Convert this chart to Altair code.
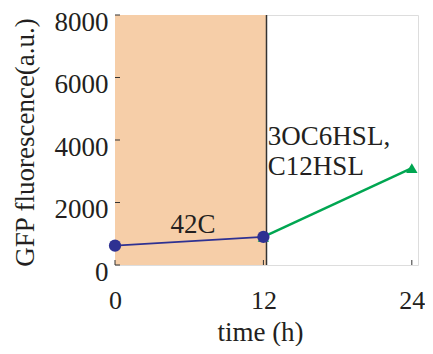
import altair as alt
import pandas as pd

# data
blue_t = [0, 12]
blue_v = [620, 900]
green_t = [12, 24]
green_v = [900, 3100]
shade_t = [0, 12.25]
x_ticks = [0, 12, 24]
y_ticks = [0, 2000, 4000, 6000, 8000]
temp_text = ["42C"]
temp_t = [6.3]
temp_v = [1280]
inducer_text = ["3OC6HSL,", "C12HSL"]
inducer_t = [12.36, 12.36]
inducer_v = [4100, 3140]

FONT = "Liberation Serif"
TXT = "#231f20"
BLUE = "#2e3192"
GREEN = "#00a651"
PEACH = "#f6cea8"

blue = pd.DataFrame({"t": blue_t, "v": blue_v})
green = pd.DataFrame({"t": green_t, "v": green_v})
shade = pd.DataFrame({"t": [shade_t[0]], "t2": [shade_t[1]], "v": [y_ticks[0]], "v2": [y_ticks[-1]]})
edge = pd.DataFrame({"t": [shade_t[1]]})
xt = pd.DataFrame({"t": x_ticks})
yt = pd.DataFrame({"v": y_ticks})
temp = pd.DataFrame({"t": temp_t, "v": temp_v, "label": temp_text})
inducer = pd.DataFrame({"t": inducer_t, "v": inducer_v, "label": inducer_text})

xscale = alt.Scale(domain=[0, 24.5], nice=False, zero=False)
yscale = alt.Scale(domain=[0, 8000], nice=False)

xaxis = alt.Axis(values=x_ticks, title="time (h)", ticks=False, domain=False, grid=False, format="d",
                 labelFont=FONT, labelFontSize=26, labelColor=TXT, labelPadding=22,
                 labelOffset=0, labelFlush=False, labelOverlap=False,
                 titleFont=FONT, titleFontSize=27, titleFontWeight="normal", titleColor=TXT,
                 titleX=145, titleY=67, titleBaseline="middle")
yaxis = alt.Axis(values=y_ticks, title="GFP fluorescence(a.u.)", ticks=False, domain=False, grid=False, format="d",
                 labelFont=FONT, labelFontSize=27, labelColor=TXT, labelPadding=7,
                 labelOffset=7, labelBaseline="middle", labelFlush=False, labelOverlap=False,
                 titleFont=FONT, titleFontSize=27, titleFontWeight="normal", titleColor=TXT,
                 titleX=-90, titleY=127, titleBaseline="middle", titleAngle=270)

X = lambda f: alt.X(f, type="quantitative", scale=xscale, axis=xaxis)
Y = lambda f: alt.Y(f, type="quantitative", scale=yscale, axis=yaxis)

rect = alt.Chart(shade).mark_rect(color=PEACH).encode(x=X("t"), x2="t2", y=Y("v"), y2="v2")
vline = alt.Chart(edge).mark_rule(color="#333333", strokeWidth=1.5).encode(x=X("t"))
xtick = alt.Chart(xt).mark_rule(color="#333333", strokeWidth=1).encode(
    x=X("t"), y=alt.value(250), y2=alt.value(245))
ytick = alt.Chart(yt).mark_rule(color="#333333", strokeWidth=1).encode(
    y=Y("v"), x=alt.value(0), x2=alt.value(5))
gline = alt.Chart(green).mark_line(color=GREEN, strokeWidth=2.5).encode(x=X("t"), y=Y("v"))
gpts = alt.Chart(green).mark_point(shape="triangle-up", filled=True, color=GREEN, size=130, opacity=1).encode(
    x=X("t"), y=Y("v"))
bline = alt.Chart(blue).mark_line(color=BLUE, strokeWidth=2).encode(x=X("t"), y=Y("v"))
bpts = alt.Chart(blue).mark_point(shape="circle", filled=True, color=BLUE, size=150, opacity=1).encode(
    x=X("t"), y=Y("v"))
txt1 = alt.Chart(temp).mark_text(font=FONT, fontSize=27, color=TXT, baseline="middle", align="center").encode(
    x=X("t"), y=Y("v"), text="label:N")
txt2 = alt.Chart(inducer).mark_text(font=FONT, fontSize=27, color=TXT, baseline="middle", align="left").encode(
    x=X("t"), y=Y("v"), text="label:N")

chart = alt.layer(rect, vline, xtick, ytick, gline, gpts, bline, bpts, txt1, txt2).properties(
    width=303, height=250,
    autosize=alt.AutoSizeParams(type="none"),
    padding={"left": 107, "top": 7, "right": 7, "bottom": 81},
).configure_view(stroke="#333333", strokeWidth=1.5).configure(background="white")

chart.save("out.html", embed_options={"renderer": "svg", "actions": False})
